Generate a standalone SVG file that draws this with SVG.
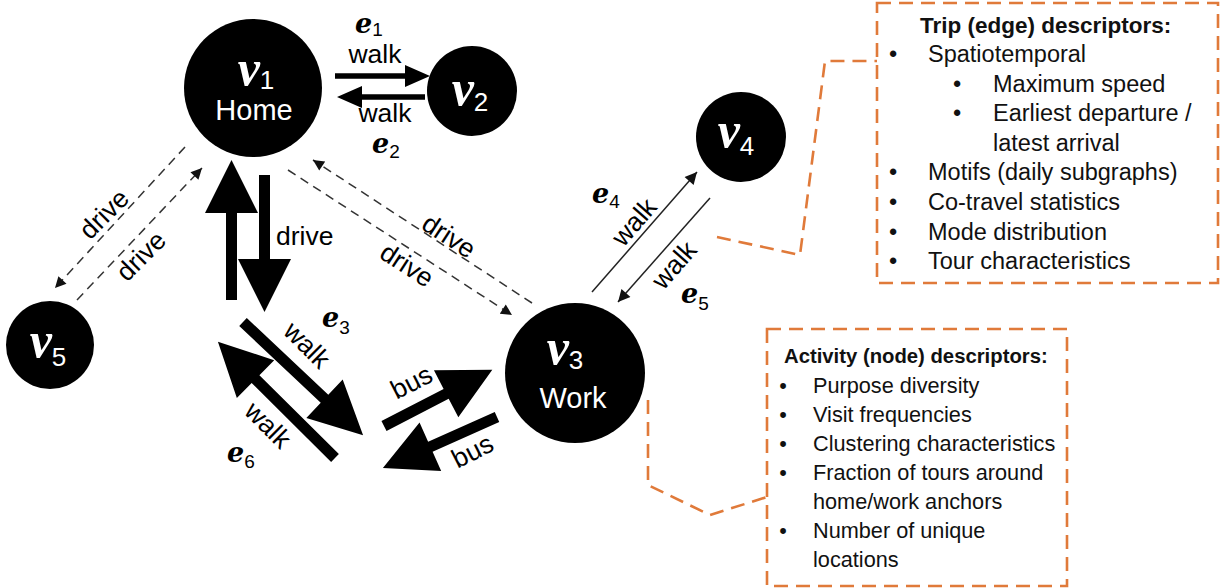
<svg xmlns="http://www.w3.org/2000/svg" width="1225" height="588" viewBox="0 0 1225 588">
<defs>
<style>
.node{fill:#000}
.vl{font-family:"Liberation Serif","Times New Roman",serif;font-style:italic;font-weight:bold;font-size:50px;fill:#fff}
.vs{font-family:"Liberation Sans",Arial,sans-serif;font-style:normal;font-weight:normal;font-size:26px}
.nl{font-family:"Liberation Sans",Arial,sans-serif;font-size:29px;fill:#fff;text-anchor:middle}
.lab{font-family:"Liberation Sans",Arial,sans-serif;font-size:26.5px;fill:#000}
.mid{text-anchor:middle}
.el{font-family:"DejaVu Serif",serif;font-style:italic;font-weight:bold;font-size:27px;fill:#000}
.es{font-family:"Liberation Sans",Arial,sans-serif;font-style:normal;font-weight:normal;font-size:19px}
.thick{fill:#000}
.thin{stroke:#222;stroke-width:1.5;fill:none}
.dash{stroke:#333;stroke-width:1.5;fill:none;stroke-dasharray:9 6}
.box{fill:none;stroke:#E07A3A;stroke-width:2.6;stroke-dasharray:14 8}
.call{fill:none;stroke:#E07A3A;stroke-width:2.6;stroke-dasharray:14 8}
.tt{font-family:"Liberation Sans",Arial,sans-serif;font-weight:bold;font-size:22.5px;fill:#111}
.tb{font-family:"Liberation Sans",Arial,sans-serif;font-size:23.5px;fill:#111}
.at{font-family:"Liberation Sans",Arial,sans-serif;font-weight:bold;font-size:20.3px;fill:#111}
.ab{font-family:"Liberation Sans",Arial,sans-serif;font-size:21.7px;fill:#111}
</style>
<marker id="ah" viewBox="0 0 10 10" refX="10" refY="5" markerWidth="15" markerHeight="12" markerUnits="userSpaceOnUse" orient="auto">
<path d="M0,0 L10,5 L0,10 z" fill="#111" stroke="none"/>
</marker>
<marker id="ahd" viewBox="0 0 10 10" refX="10" refY="5" markerWidth="13" markerHeight="11" markerUnits="userSpaceOnUse" orient="auto">
<path d="M0,0 L10,5 L0,10 z" fill="#111" stroke="none"/>
</marker>
</defs>
<rect width="1225" height="588" fill="#fff"/>

<g id="connectors">
<!-- v1 <-> v2 walk -->
<polygon class="thick" points="0,-2.8 70,-2.8 70,-11 95,0 70,11 70,2.8 0,2.8" transform="translate(335,76)"/>
<polygon class="thick" points="0,-2.8 63,-2.8 63,-11 88,0 63,11 63,2.8 0,2.8" transform="translate(425,97) rotate(180)"/>
<!-- v1 <-> v3 drive (thick vertical) -->
<polygon class="thick" points="0,-5.5 87,-5.5 87,-26.5 140,0 87,26.5 87,5.5 0,5.5" transform="translate(231.5,300) rotate(-90)"/>
<polygon class="thick" points="0,-5.5 84,-5.5 84,-26.5 137,0 84,26.5 84,5.5 0,5.5" transform="translate(264.5,175) rotate(90)"/>
<!-- walk e3 / e6 -->
<polygon class="thick" points="0,-5.5 112,-5.5 112,-26.5 165,0 112,26.5 112,5.5 0,5.5" transform="translate(243,322) rotate(43.3)"/>
<polygon class="thick" points="0,-5.5 112,-5.5 112,-26.5 165,0 112,26.5 112,5.5 0,5.5" transform="translate(335,458) rotate(224.8)"/>
<!-- bus -->
<polygon class="thick" points="0,-5.5 70,-5.5 70,-26.5 122,0 70,26.5 70,5.5 0,5.5" transform="translate(384,426) rotate(-27.4)"/>
<polygon class="thick" points="0,-5.5 73,-5.5 73,-26.5 125,0 73,26.5 73,5.5 0,5.5" transform="translate(497,417) rotate(155.9)"/>
<!-- v3 <-> v4 walk -->
<line class="thin" x1="592" y1="292" x2="697" y2="172" marker-end="url(#ah)"/>
<line class="thin" x1="710" y1="198" x2="618" y2="302" marker-end="url(#ah)"/>
<!-- v1 <-> v5 drive -->
<line class="dash" x1="185" y1="147" x2="55" y2="288" marker-end="url(#ahd)"/>
<line class="dash" x1="77" y1="300" x2="202" y2="168" marker-end="url(#ahd)"/>
<!-- v1 <-> v3 drive dashed -->
<line class="dash" x1="532" y1="303" x2="313" y2="160" marker-end="url(#ahd)"/>
<line class="dash" x1="288" y1="170" x2="512" y2="315" marker-end="url(#ahd)"/>

<!-- edge labels -->
<text class="lab mid" x="375" y="63">walk</text>
<text class="lab mid" x="385" y="122">walk</text>
<text class="lab" x="276" y="245">drive</text>
<text class="lab mid" transform="translate(307,345) rotate(45)" y="9">walk</text>
<text class="lab mid" transform="translate(268,425) rotate(45)" y="9">walk</text>
<text class="lab mid" transform="translate(412,383) rotate(-27)" y="8">bus</text>
<text class="lab mid" transform="translate(473,452) rotate(-27)" y="8">bus</text>
<text class="lab mid" transform="translate(104,214) rotate(-45)" y="9">drive</text>
<text class="lab mid" transform="translate(141,256) rotate(-45)" y="9">drive</text>
<text class="lab mid" transform="translate(449,236) rotate(33)" y="9">drive</text>
<text class="lab mid" transform="translate(407,265) rotate(33)" y="9">drive</text>
<text class="lab mid" transform="translate(634,222) rotate(-49)" y="9">walk</text>
<text class="lab mid" transform="translate(674,265) rotate(-49)" y="9">walk</text>

<text class="el" x="355" y="33">e<tspan class="es" dy="3">1</tspan></text>
<text class="el" x="372" y="153">e<tspan class="es" dy="5">2</tspan></text>
<text class="el" x="322" y="327">e<tspan class="es" dy="7">3</tspan></text>
<text class="el" x="592" y="203">e<tspan class="es" dy="5">4</tspan></text>
<text class="el" x="681" y="303">e<tspan class="es" dy="7">5</tspan></text>
<text class="el" x="227" y="462">e<tspan class="es" dy="6">6</tspan></text>

<!-- callout leaders -->
<polyline class="call" points="717,237 800,255 825,61 877,61"/>
<polyline class="call" points="648,400 648,485 710,515 767,497"/>
</g>

<g id="v1">
<circle class="node" cx="253" cy="88" r="69"/>
<text class="vl" x="256" y="85" text-anchor="middle">v<tspan class="vs" dy="4">1</tspan></text>
<text class="nl" x="254" y="120">Home</text>
</g>
<g id="v2">
<circle class="node" cx="472" cy="91" r="45"/>
<text class="vl" x="470" y="105" text-anchor="middle">v<tspan class="vs" dy="6">2</tspan></text>
</g>
<g id="v3">
<circle class="node" cx="575" cy="373" r="70"/>
<text class="vl" x="565" y="364" text-anchor="middle">v<tspan class="vs" dy="5">3</tspan></text>
<text class="nl" x="573" y="408">Work</text>
</g>
<g id="v4">
<circle class="node" cx="741" cy="137" r="45"/>
<text class="vl" x="736" y="147" text-anchor="middle">v<tspan class="vs" dy="8">4</tspan></text>
</g>
<g id="v5">
<circle class="node" cx="50" cy="345" r="44"/>
<text class="vl" x="48" y="357" text-anchor="middle">v<tspan class="vs" dy="9">5</tspan></text>
</g>

<g id="trip-descriptors">
<rect class="box" x="877" y="3" width="341" height="280"/>
<text class="tt" x="920" y="33">Trip (edge) descriptors:</text>
<text class="tb" x="893" y="62" text-anchor="middle">•</text>
<text class="tb" x="928" y="62">Spatiotemporal</text>
<text class="tb" x="957" y="91.6" text-anchor="middle">•</text>
<text class="tb" x="993" y="91.6">Maximum speed</text>
<text class="tb" x="957" y="121.2" text-anchor="middle">•</text>
<text class="tb" x="993" y="121.2">Earliest departure /</text>
<text class="tb" x="993" y="150.8">latest arrival</text>
<text class="tb" x="893" y="180.4" text-anchor="middle">•</text>
<text class="tb" x="928" y="180.4">Motifs (daily subgraphs)</text>
<text class="tb" x="893" y="210" text-anchor="middle">•</text>
<text class="tb" x="928" y="210">Co-travel statistics</text>
<text class="tb" x="893" y="239.6" text-anchor="middle">•</text>
<text class="tb" x="928" y="239.6">Mode distribution</text>
<text class="tb" x="893" y="269.2" text-anchor="middle">•</text>
<text class="tb" x="928" y="269.2">Tour characteristics</text>
</g>

<g id="activity-descriptors">
<rect class="box" x="767" y="329" width="300" height="257"/>
<text class="at" x="784" y="363">Activity (node) descriptors:</text>
<text class="ab" x="783" y="393" text-anchor="middle">•</text>
<text class="ab" x="813" y="393">Purpose diversity</text>
<text class="ab" x="783" y="422" text-anchor="middle">•</text>
<text class="ab" x="813" y="422">Visit frequencies</text>
<text class="ab" x="783" y="451" text-anchor="middle">•</text>
<text class="ab" x="813" y="451">Clustering characteristics</text>
<text class="ab" x="783" y="480" text-anchor="middle">•</text>
<text class="ab" x="813" y="480">Fraction of tours around</text>
<text class="ab" x="813" y="509">home/work anchors</text>
<text class="ab" x="783" y="538" text-anchor="middle">•</text>
<text class="ab" x="813" y="538">Number of unique</text>
<text class="ab" x="813" y="567">locations</text>
</g>
</svg>
